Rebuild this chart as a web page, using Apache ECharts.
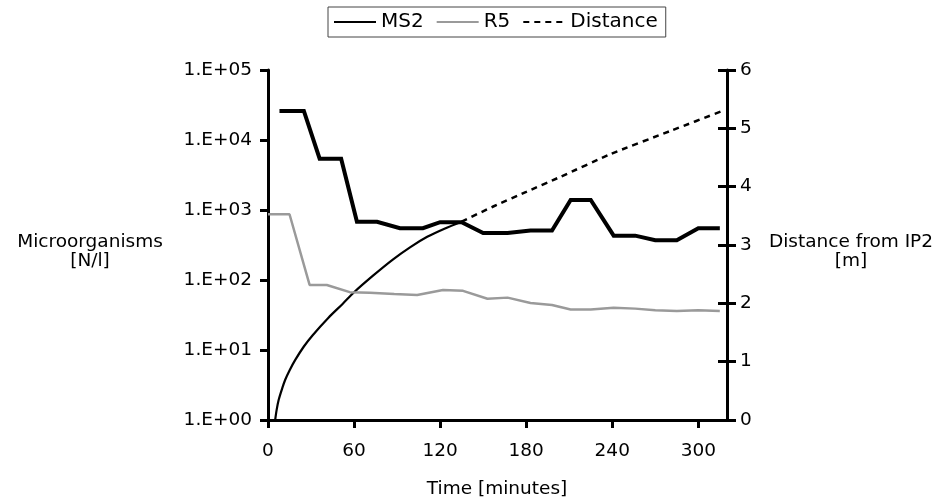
<!DOCTYPE html>
<html>
<head>
<meta charset="utf-8">
<script src="https://cdn.jsdelivr.net/npm/echarts@6/dist/echarts.min.js"></script>
<style>html,body{margin:0;padding:0;background:#fff;}#c{width:951px;height:502px;}</style>
</head>
<body>
<div id="c"></div>
<script>
// ---- data ----
var ms2Time  = [8, 25, 36, 51, 62, 76, 92, 108, 120, 135, 150, 167, 183, 198, 211, 225, 241, 256, 270, 285, 300, 315];
var ms2Value = [26000, 26000, 5400, 5400, 680, 680, 550, 550, 670, 670, 470, 470, 510, 510, 1390, 1390, 430, 430, 370, 370, 550, 550];

var r5Time  = [0, 15, 29, 41, 57, 71, 88, 104, 122, 136, 153, 167, 183, 198, 211, 225, 241, 256, 270, 285, 300, 315];
var r5Value = [870, 870, 85, 85, 67, 66, 63, 61, 72, 70, 54, 56, 47, 44, 38, 38, 40, 39, 37, 36, 37, 36];

var distMeasTime  = [5, 6, 7.5, 10, 12, 15, 19, 25, 31, 42, 52, 60, 73, 87, 99, 111, 123, 135];
var distMeasValue = [0, 0.17, 0.35, 0.55, 0.69, 0.85, 1.03, 1.26, 1.45, 1.75, 1.99, 2.19, 2.47, 2.75, 2.96, 3.14, 3.28, 3.40];

var distExtTime  = [135, 157, 180, 204, 239, 280, 318];
var distExtValue = [3.40, 3.66, 3.91, 4.17, 4.56, 4.95, 5.31];

var leftTickLabels = ['1.E+00', '1.E+01', '1.E+02', '1.E+03', '1.E+04', '1.E+05'];
var seriesNames = ['MS2', 'R5', 'Distance'];

function pairs(xs, ys) { return xs.map(function (x, i) { return [x, ys[i]]; }); }

var FONT = 'DejaVu Sans';
var FS = 18.5;
var FSTR = FS + 'px "' + FONT + '"';

var chart = echarts.init(document.getElementById('c'), null, { renderer: 'canvas' });
chart.setOption({
  animation: false,
  backgroundColor: '#fff',
  textStyle: { fontFamily: FONT, color: '#000' },
  grid: { left: 268, right: 224, top: 70, bottom: 82, containLabel: false },
  legend: {
    data: seriesNames,
    left: 328, top: 7,
    padding: [5, 8, 5, 5],
    borderColor: '#444', borderWidth: 1,
    itemWidth: 42, itemHeight: 12, itemGap: 12,
    itemStyle: { opacity: 0 },
    textStyle: { fontFamily: FONT, fontSize: 20, color: '#000' }
  },
  xAxis: {
    type: 'value', min: 0, max: 320, interval: 60,
    axisLine: { show: true, lineStyle: { color: '#000', width: 3 } },
    axisTick: { show: true, inside: false, length: 8, lineStyle: { color: '#000', width: 3 } },
    axisLabel: { show: true, showMaxLabel: false, margin: 22, fontFamily: FONT, fontSize: FS, color: '#000' },
    splitLine: { show: false }
  },
  yAxis: [
    {
      type: 'log', logBase: 10, min: 1, max: 100000, position: 'left',
      axisLine: { show: true, lineStyle: { color: '#000', width: 3 } },
      axisTick: { show: true, inside: false, length: 8, lineStyle: { color: '#000', width: 3 } },
      axisLabel: {
        margin: 16, fontFamily: FONT, fontSize: FS, color: '#000',
        formatter: function (v) { return leftTickLabels[Math.round(Math.log10(v))]; }
      },
      splitLine: { show: false }
    },
    {
      type: 'value', min: 0, max: 6, interval: 1, position: 'right',
      axisLine: { show: true, lineStyle: { color: '#000', width: 3 } },
      axisTick: { show: true, inside: false, length: 9, lineStyle: { color: '#000', width: 3 } },
      axisLabel: { margin: 13, fontFamily: FONT, fontSize: FS, color: '#000' },
      splitLine: { show: false }
    },
    {
      type: 'value', min: 0, max: 6, interval: 1, position: 'right',
      axisLine: { show: false },
      axisTick: { show: true, inside: true, length: 9, lineStyle: { color: '#000', width: 3 } },
      axisLabel: { show: false },
      splitLine: { show: false }
    }
  ],
  graphic: [
    { type: 'text', style: { text: 'Microorganisms', x: 90, y: 242, textAlign: 'center', textVerticalAlign: 'middle', font: FSTR, fill: '#000' } },
    { type: 'text', style: { text: '[N/l]', x: 90, y: 261, textAlign: 'center', textVerticalAlign: 'middle', font: FSTR, fill: '#000' } },
    { type: 'text', style: { text: 'Distance from IP2', x: 851, y: 242, textAlign: 'center', textVerticalAlign: 'middle', font: FSTR, fill: '#000' } },
    { type: 'text', style: { text: '[m]', x: 851, y: 261, textAlign: 'center', textVerticalAlign: 'middle', font: FSTR, fill: '#000' } },
    { type: 'text', style: { text: 'Time [minutes]', x: 497, y: 489, textAlign: 'center', textVerticalAlign: 'middle', font: FSTR, fill: '#000' } }
  ],
  series: [
    {
      name: seriesNames[0], type: 'line', yAxisIndex: 0, symbol: 'none', z: 4,
      data: pairs(ms2Time, ms2Value),
      lineStyle: { color: '#000', width: 4, join: 'miter' },
      itemStyle: { color: '#000' }
    },
    {
      name: seriesNames[1], type: 'line', yAxisIndex: 0, symbol: 'none', z: 3,
      data: pairs(r5Time, r5Value),
      lineStyle: { color: '#9a9a9a', width: 2.5 },
      itemStyle: { color: '#9a9a9a' }
    },
    {
      name: seriesNames[2], type: 'line', yAxisIndex: 1, symbol: 'none', z: 2,
      smooth: 0.2,
      data: pairs(distExtTime, distExtValue),
      lineStyle: { color: '#000', width: 2.5, type: [6, 5] },
      itemStyle: { color: '#000' }
    },
    {
      name: 'Distance measured', type: 'line', yAxisIndex: 1, symbol: 'none', z: 2,
      smooth: 0.3,
      data: pairs(distMeasTime, distMeasValue),
      lineStyle: { color: '#000', width: 2.2 },
      itemStyle: { color: '#000' }
    }
  ]
});
</script>
</body>
</html>
